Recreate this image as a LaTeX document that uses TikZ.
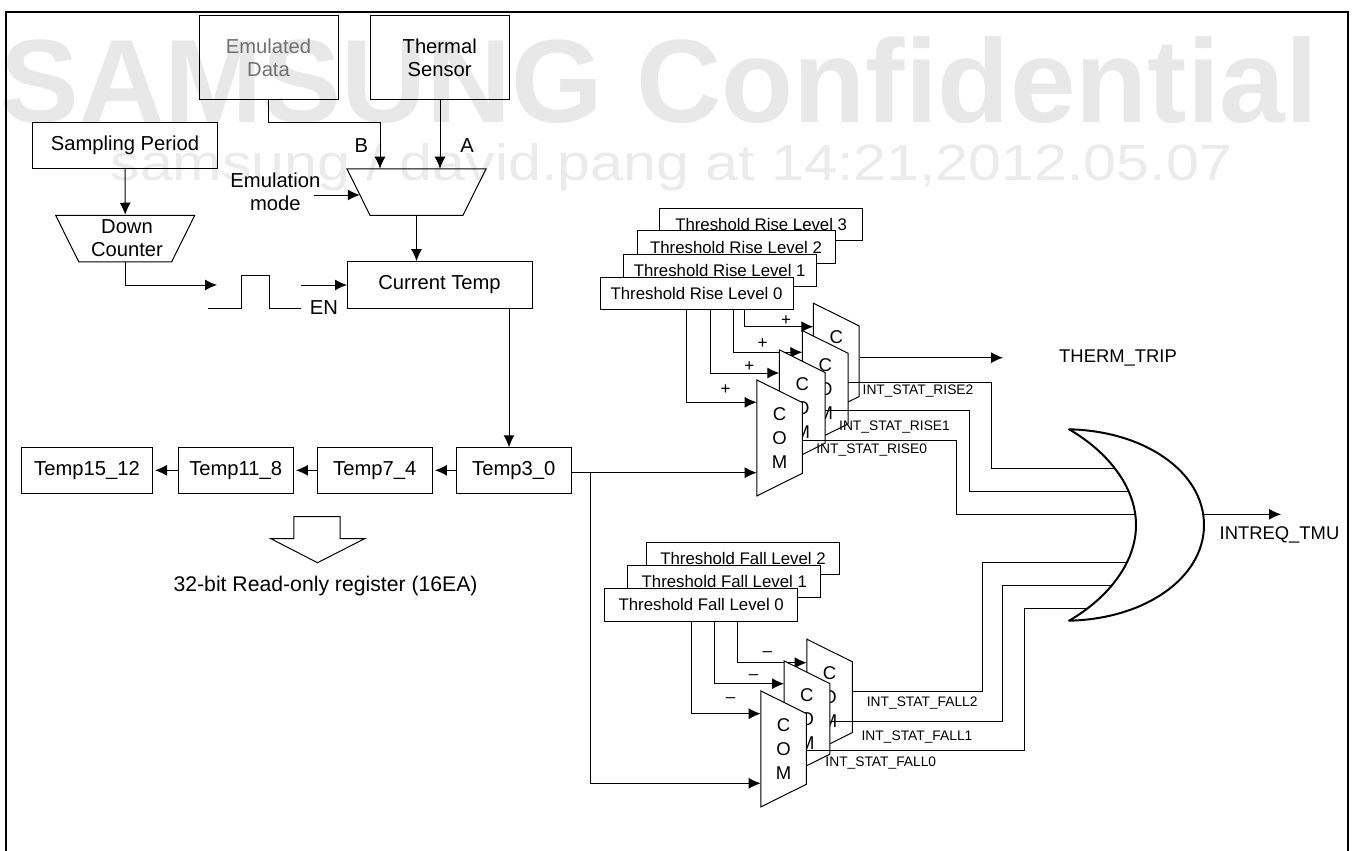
\documentclass[tikz,border=0pt]{standalone}
\usepackage{fontspec}
\setmainfont{Liberation Sans}
\usepackage{xcolor}
\usetikzlibrary{shapes, arrows.meta}
\definecolor{markbig}{HTML}{E8E8E8}
\definecolor{marksmall}{HTML}{EBEBEB}
\definecolor{faded}{HTML}{707070}
\tikzstyle{block} = [draw, rectangle, inner sep=0pt, align=center, font=\fontsize{20.2}{23.3}\selectfont]
\tikzstyle{thres} = [block, fill=white, minimum height=32.5pt, minimum width=193pt, font=\fontsize{16.8}{20}\selectfont]
\tikzstyle{trap} = [draw, trapezium, trapezium left angle=63.6, trapezium right angle=63.6, inner sep=0pt, text depth=0pt]
\tikzstyle{mux} = [trap, text width=93pt, text height=46.5pt, shape border rotate=180]
\tikzstyle{com} = [trap, fill=white, text width=45.7pt, text height=70.7pt, shape border rotate=270, label={[comtext]center:{C\\O\\M}}]
\tikzstyle{comtext} = [align=center, inner sep=0pt, font=\fontsize{18.5}{24}\selectfont]
\tikzstyle{lbl} = [inner sep=0pt, align=center, font=\fontsize{20.2}{23.3}\selectfont]
\tikzstyle{lblsmall} = [inner sep=0pt, font=\fontsize{13.8}{16}\selectfont]

\begin{document}
\begin{tikzpicture}[x=1pt, y=-1pt, node distance=139pt, >={Latex[length=12pt,width=11pt]}, line width=1pt]
    \useasboundingbox (0,0) rectangle (1355,851);

    % watermark
    \node [inner sep=0pt, anchor=base west, text=markbig] (markA) at (0,122.7) {\scalebox{0.996}[1]{\fontsize{118.5}{120}\selectfont\bfseries SAMSUNG Confidential}};
    \node [inner sep=0pt, anchor=base west, text=marksmall] (markB) at (110,180) {\scalebox{1.16}[1]{\fontsize{51}{55}\selectfont samsung / david.pang at 14:21,2012.05.07}};

    % frame
    \draw [line width=2pt] (6,851) -- (6,12) -- (1348,12) -- (1348,851);

    % sources
    \node [block, minimum width=139pt, minimum height=83.6pt, text=faded] (emul) at (268.5,57.5) {Emulated\\Data};
    \node [block, minimum width=139pt, minimum height=83.6pt] (sensor) at (439.7,57.5) {Thermal\\Sensor};
    \node [block, minimum width=185pt, minimum height=46.4pt] (period) at (125,145.5) {Sampling Period};
    \node [mux] (down) at (125.2,238.5) {};
    \node [lbl] (downtxt) at (127,238.3) {Down\\Counter};
    \node [mux] (sel) at (416.5,192) {};
    \node [block, minimum width=185pt, minimum height=46.4pt] (cur) at (439.5,284.8) {Current Temp};
    \node [lbl] (lblB) at (361.4,145.7) {B};
    \node [lbl] (lblA) at (467,145.7) {A};
    \node [lbl] (lblmode) at (275.4,191.7) {Emulation\\mode};
    \node [lbl] (lblEN) at (324,307.3) {EN};

    % temp registers
    \node [block, minimum width=115.4pt, minimum height=46pt] (t3) at (513.7,470.3) {Temp3\_0};
    \node [block, minimum width=115.4pt, minimum height=46pt, left of=t3] (t7) {Temp7\_4};
    \node [block, minimum width=115.4pt, minimum height=46pt, left of=t7] (t11) {Temp11\_8};
    \node [block, minimum width=131pt, minimum height=46pt, left of=t11, node distance=148.7pt] (t15) {Temp15\_12};
    \node [lbl, font=\fontsize{21.2}{24}\selectfont] (lblreg) at (325.6,585.7) {32-bit Read-only register (16EA)};

    % hollow arrow
    \draw (293.8,538.7) -- (293.8,516.7) -- (340,516.7) -- (340,538.7) -- (364.6,538.7) -- (317.5,562.7) -- (270.9,538.7) -- cycle;

    % pulse
    \draw (207.9,308) -- (241,308) -- (241,275.7) -- (269.6,275.7) -- (269.6,308) -- (301,308);

    % free ends
    \coordinate (bendE) at (380,122.5);
    \coordinate (selB) at (380,168.7);
    \coordinate (selA) at (440,168.7);
    \coordinate (modeout) at (313.6,195);
    \coordinate (modein) at (359.8,195);
    \coordinate (pulsein) at (217,285);
    \coordinate (pulseout) at (301,285);
    \coordinate (curin) at (347,285);
    \coordinate (curout) at (509,308);
    \coordinate (t3in) at (509,447.3);

    \draw [->] (emul.south) |- (bendE) -- (selB);
    \draw [->] (sensor.south -| selA) -- (selA);
    \draw [->] (modeout) -- (modein);
    \draw [->] (period.south) -- (down.north);
    \draw [->] (sel.south) -- (sel.south |- cur.north);
    \draw [->] (down.south) |- (pulsein);
    \draw [->] (pulseout) -- (curin);
    \draw [->] (curout) -- (t3in);
    \draw [->, shorten >=2pt] (t3) -- (t7);
    \draw [->, shorten >=2pt] (t7) -- (t11);
    \draw [->, shorten >=2pt] (t11) -- (t15);

    % rise thresholds
    \node [thres, minimum width=202.5pt] (rise3) at (761.2,224.4) {Threshold Rise Level 3};
    \node [thres, minimum width=198pt] (rise2) at (736,247.2) {Threshold Rise Level 2};
    \node [thres] (rise1) at (719.7,270.5) {Threshold Rise Level 1};
    \node [thres] (rise0) at (696.5,293.7) {Threshold Rise Level 0};

    \coordinate (r0top) at (686.7,310);
    \coordinate (r1top) at (710,310);
    \coordinate (r2top) at (733,310);
    \coordinate (r3top) at (744.3,310);
    \coordinate (r0in) at (756.7,402.3);
    \coordinate (r1in) at (779.3,373);
    \coordinate (r2in) at (802.3,352.3);
    \coordinate (r3in) at (813.3,326.7);
    \coordinate (r0cmp) at (756.7,472.7);
    \draw [->] (r0top) |- (r0in);
    \draw [->] (r1top) |- (r1in);
    \draw [->] (r2top) |- (r2in);
    \draw [->] (r3top) |- (r3in);
    \draw [->] (t3.east |- r0cmp) -- (r0cmp);

    \node [com] (rcom3) at (836.2,361.2) {};
    \node [com] (rcom2) at (825.2,388.6) {};
    \node [com] (rcom1) at (802.2,407.9) {};
    \node [com] (rcom0) at (779.6,437.9) {};

    % fall thresholds
    \node [thres] (fall2) at (743,558.5) {Threshold Fall Level 2};
    \node [thres] (fall1) at (724.3,581.7) {Threshold Fall Level 1};
    \node [thres] (fall0) at (701.2,604.8) {Threshold Fall Level 0};

    \coordinate (f0top) at (691.3,621);
    \coordinate (f1top) at (714.3,621);
    \coordinate (f2top) at (737.7,621);
    \coordinate (f0in) at (760.7,713.7);
    \coordinate (f1in) at (784,683.7);
    \coordinate (f2in) at (806.7,662.7);
    \coordinate (f0cmp) at (760.7,783.3);
    \coordinate (branch) at (590.7,472.7);
    \draw [->] (f0top) |- (f0in);
    \draw [->] (f1top) |- (f1in);
    \draw [->] (f2top) |- (f2in);
    \draw [->] (branch) |- (f0cmp);

    \node [com] (fcom2) at (829.6,697.2) {};
    \node [com] (fcom1) at (806.9,718.9) {};
    \node [com] (fcom0) at (783.6,748.9) {};

    % comparator outputs
    \coordinate (thermout) at (860,357.7);
    \coordinate (thermtip) at (1003,357.7);
    \coordinate (ro2) at (848,382.3);
    \coordinate (ro1) at (825,410);
    \coordinate (ro0) at (802.4,440);
    \coordinate (fo2) at (853.3,691.7);
    \coordinate (fo1) at (830,721.7);
    \coordinate (fo0) at (807.3,750.7);
    \coordinate (rb2) at (991.7,468);
    \coordinate (rb1) at (969,491);
    \coordinate (rb0) at (956.5,514.3);
    \coordinate (fb2) at (982.7,562.3);
    \coordinate (fb1) at (1002.3,585);
    \coordinate (fb0) at (1024,608.3);
    \coordinate (gr2) at (1125,468);
    \coordinate (gr1) at (1135,491);
    \coordinate (gr0) at (1145,514.3);
    \coordinate (gf2) at (1135,562.3);
    \coordinate (gf1) at (1125,585);
    \coordinate (gf0) at (1105,608.3);
    \coordinate (gout) at (1204,514.3);
    \coordinate (gtip) at (1281,514.3);

    \draw [->] (thermout) -- (thermtip);
    \draw (ro2) -| (rb2) -- (gr2);
    \draw (ro1) -| (rb1) -- (gr1);
    \draw (ro0) -| (rb0) -- (gr0);
    \draw (fo2) -| (fb2) -- (gf2);
    \draw (fo1) -| (fb1) -- (gf1);
    \draw (fo0) -| (fb0) -- (gf0);
    \draw [->] (gout) -- (gtip);

    % or gate
    \draw [line width=2pt, fill=white, line join=round] (1069,429.3) .. controls (1145,431) and (1204,472) .. (1204,525) .. controls (1204,578) and (1145,619) .. (1069,620.7) .. controls (1105,600) and (1136,565) .. (1136,525) .. controls (1136,485) and (1105,450) .. cycle;

    % signs
    \node [lbl, font=\fontsize{17}{20}\selectfont] (rsign0) at (725.7,390) {+};
    \node [lbl, font=\fontsize{17}{20}\selectfont] (rsign1) at (749.3,366.7) {+};
    \node [lbl, font=\fontsize{17}{20}\selectfont] (rsign2) at (762.7,344) {+};
    \node [lbl, font=\fontsize{17}{20}\selectfont] (rsign3) at (786,320.7) {+};
    \node [lbl, font=\fontsize{17}{20}\selectfont] (fsign0) at (730.7,700) {--};
    \node [lbl, font=\fontsize{17}{20}\selectfont] (fsign1) at (753.7,677) {--};
    \node [lbl, font=\fontsize{17}{20}\selectfont] (fsign2) at (767.3,654) {--};

    % output labels
    \node [lblsmall] (rl2) at (918,391.3) {INT\_STAT\_RISE2};
    \node [lblsmall] (rl1) at (894.5,427) {INT\_STAT\_RISE1};
    \node [lblsmall] (rl0) at (871.7,450) {INT\_STAT\_RISE0};
    \node [lblsmall] (fl2) at (922.2,703) {INT\_STAT\_FALL2};
    \node [lblsmall] (fl1) at (917,736.7) {INT\_STAT\_FALL1};
    \node [lblsmall] (fl0) at (880.8,762.7) {INT\_STAT\_FALL0};
    \node [lbl, font=\fontsize{18.4}{22}\selectfont] (therm) at (1118,358) {THERM\_TRIP};
    \node [lbl, font=\fontsize{18.4}{22}\selectfont] (intreq) at (1279.5,535) {INTREQ\_TMU};
\end{tikzpicture}
\end{document}
